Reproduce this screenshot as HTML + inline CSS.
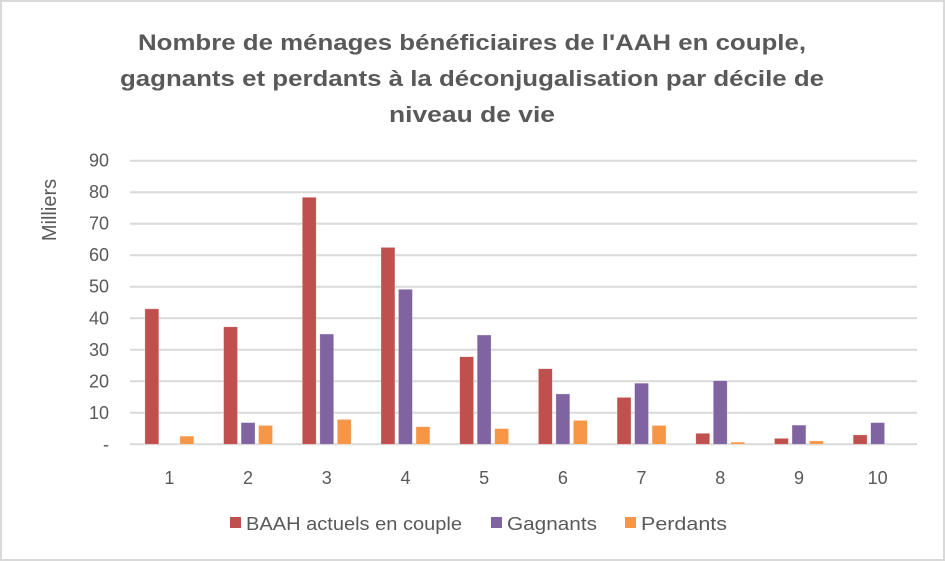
<!DOCTYPE html>
<html><head><meta charset="utf-8"><style>
body{margin:0;background:#fff}
svg{display:block;font-family:"Liberation Sans",sans-serif}
</style></head><body>
<svg id="chart" width="945" height="561">
<rect x="1" y="1" width="943" height="559" fill="#fff" stroke="#d9d9d9" stroke-width="2"/>
<g fill="#595959" font-weight="bold" font-size="22" text-anchor="middle">
<text x="472" y="50" textLength="668" lengthAdjust="spacingAndGlyphs">Nombre de ménages bénéficiaires de l'AAH en couple,</text>
<text x="472" y="86" textLength="704" lengthAdjust="spacingAndGlyphs">gagnants et perdants à la déconjugalisation par décile de</text>
<text x="472" y="122" textLength="166" lengthAdjust="spacingAndGlyphs">niveau de vie</text>
</g>
<text x="0" y="0" transform="translate(56,210) rotate(-90)" text-anchor="middle" font-size="20" fill="#595959">Milliers</text>
<g id="grid"></g><g id="bars"></g><g id="labels"></g>
<g font-size="18" fill="#595959">
<g><rect x="230" y="517" width="11" height="11" fill="#c0504d"/><text x="246" y="530" textLength="216" lengthAdjust="spacingAndGlyphs">BAAH actuels en couple</text></g>
<g><rect x="491" y="517" width="11" height="11" fill="#8064a2"/><text x="507" y="530" textLength="90" lengthAdjust="spacingAndGlyphs">Gagnants</text></g>
<g><rect x="625" y="517" width="11" height="11" fill="#f79646"/><text x="641" y="530" textLength="86" lengthAdjust="spacingAndGlyphs">Perdants</text></g>
</g>
</svg>
<script>
const categories=["1","2","3","4","5","6","7","8","9","10"];
const baah=[43,37.3,78.4,62.5,27.8,24,14.9,3.5,1.9,3.0];
const gagnants=[0,6.9,35,49.2,34.7,16,19.4,20.2,6.1,6.9];
const perdants=[2.6,6.0,7.9,5.6,5.0,7.6,6.0,0.7,1.1,0];
const yTicks=[0,10,20,30,40,50,60,70,80,90];
const yTickLabels=["-","10","20","30","40","50","60","70","80","90"];
const NS="http://www.w3.org/2000/svg";
const x0=130,x1=917,y0=444.3,yTop=160.7,yMax=90;
const yScale=v=>y0-(v/yMax)*(y0-yTop);
const band=(x1-x0)/categories.length;
const xCenter=i=>x0+band*(i+0.5);
function mk(tag,attrs,parent){const e=document.createElementNS(NS,tag);for(const k in attrs)e.setAttribute(k,attrs[k]);parent.appendChild(e);return e;}
const grid=document.getElementById('grid'),bars=document.getElementById('bars'),labels=document.getElementById('labels');
yTicks.forEach((t,i)=>{
 const l=mk('line',{x1:x0,x2:x1,y1:yScale(t),y2:yScale(t),stroke:'#d9d9d9','stroke-width':2},grid);
 
 
 const tx=mk('text',{x:109,y:yScale(t)+6,'text-anchor':'end','font-size':18,fill:'#595959'},labels);
 tx.textContent=yTickLabels[i];
 
 
});
const series=[[baah,'#c0504d','baah'],[gagnants,'#8064a2','gagnants'],[perdants,'#f79646','perdants']];
const bw=14,step=17.5;
categories.forEach((c,i)=>{
 series.forEach((s,j)=>{
  const v=s[0][i];if(v<=0)return;
  const x=xCenter(i)+(j-1)*step-bw/2;
  const r=mk('rect',{x:x,y:yScale(v),width:bw,height:y0-yScale(v),fill:s[1],stroke:'#fff','stroke-opacity':0.5,'stroke-width':0.7},bars);
  
  
 });
 const t=mk('text',{x:xCenter(i),y:484,'text-anchor':'middle','font-size':18,fill:'#595959'},labels);
 t.textContent=c;
 
 
});
</script>
</body></html>
